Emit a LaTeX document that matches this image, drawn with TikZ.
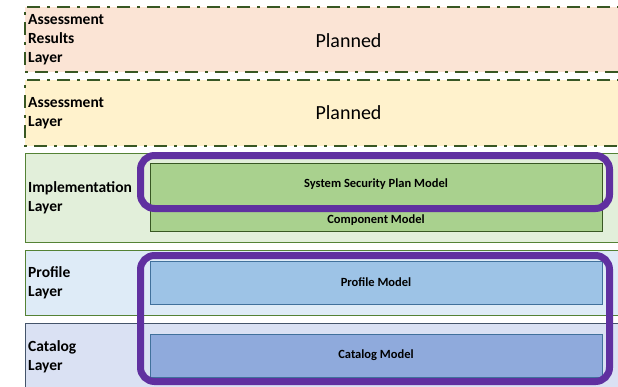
\documentclass[tikz,border=0pt]{standalone}
\usepackage{fontspec}
\setmainfont{Carlito}
\usepackage{xcolor}

\definecolor{resultsfill}{HTML}{FBE4D5}
\definecolor{assessfill}{HTML}{FFF2CC}
\definecolor{implfill}{HTML}{E2EFDA}
\definecolor{profilefill}{HTML}{DEEBF7}
\definecolor{catalogfill}{HTML}{DAE1F3}
\definecolor{sspfill}{HTML}{A9D18E}
\definecolor{profmodelfill}{HTML}{9DC3E6}
\definecolor{catmodelfill}{HTML}{8FAADC}
\definecolor{layergreen}{HTML}{548235}
\definecolor{dashgreen}{HTML}{385723}
\definecolor{modelblue}{HTML}{41719C}
\definecolor{catalogline}{HTML}{44546A}
\definecolor{hilite}{HTML}{6030A0}

\tikzset{
  plannedlayer/.style={draw=dashgreen,line width=1.6pt,
    dash pattern=on 13pt off 7pt on 3pt off 7pt},
  solidlayer/.style={draw=layergreen,line width=0.7pt},
  modelbox/.style={line width=0.8pt},
  hilitebox/.style={draw=hilite,line width=7pt,rounded corners=14pt},
  layerlabel/.style={anchor=west,align=left,inner sep=0pt,
    font=\fontsize{15.5}{19}\selectfont\bfseries},
  modellabel/.style={inner sep=0pt,font=\fontsize{12.5}{15}\selectfont\bfseries},
  plannedlabel/.style={inner sep=0pt,font=\fontsize{20}{24}\selectfont}
}

\begin{document}
\begin{tikzpicture}[x=1pt,y=-1pt]
\useasboundingbox (0,0) rectangle (618,386);
\clip (0,0) rectangle (618,386);

\fill[resultsfill] (25,7) rectangle (640,72);
\draw[plannedlayer] (640,7) -- (25,7) -- (25,72) -- (640,72);
\fill[assessfill] (25,80) rectangle (640,146);
\draw[plannedlayer] (640,80) -- (25,80) -- (25,146) -- (640,146);
\filldraw[implfill,solidlayer] (25,153) rectangle (640,242);
\filldraw[profilefill,solidlayer] (25,250) rectangle (640,315);
\filldraw[catalogfill,draw=catalogline,line width=0.7pt] (25,323) rectangle (640,395);

\node[layerlabel] (resultslabel) at (28,40) {Assessment\\Results\\Layer};
\node[plannedlabel] (resultsplanned) at (348.5,40.5) {Planned};
\node[layerlabel] (assesslabel) at (28,113) {Assessment\\Layer};
\node[plannedlabel] (assessplanned) at (348.5,113) {Planned};
\node[layerlabel] (impllabel) at (28,198) {Implementation\\Layer};
\node[layerlabel] (profilelabel) at (28,283) {Profile\\Layer};
\node[layerlabel] (cataloglabel) at (28,357) {Catalog\\Layer};

\filldraw[sspfill,draw=dashgreen,modelbox] (150,190) rectangle (602,231);
\filldraw[sspfill,draw=dashgreen,modelbox] (150,163) rectangle (602,206);
\filldraw[profmodelfill,draw=modelblue,modelbox] (150,261) rectangle (602,304);
\filldraw[catmodelfill,draw=modelblue,modelbox] (150,334) rectangle (602,377);

\node[modellabel] (ssp) at (376,184.5) {System Security Plan Model};
\node[modellabel] (component) at (376,220.5) {Component Model};
\node[modellabel] (profilemodel) at (376,282.5) {Profile Model};
\node[modellabel] (catalogmodel) at (376,355.5) {Catalog Model};

\draw[hilitebox] (140.5,155.5) rectangle (609.5,208.5);
\draw[hilitebox] (140.5,255.5) rectangle (609.5,381.5);
\end{tikzpicture}
\end{document}
